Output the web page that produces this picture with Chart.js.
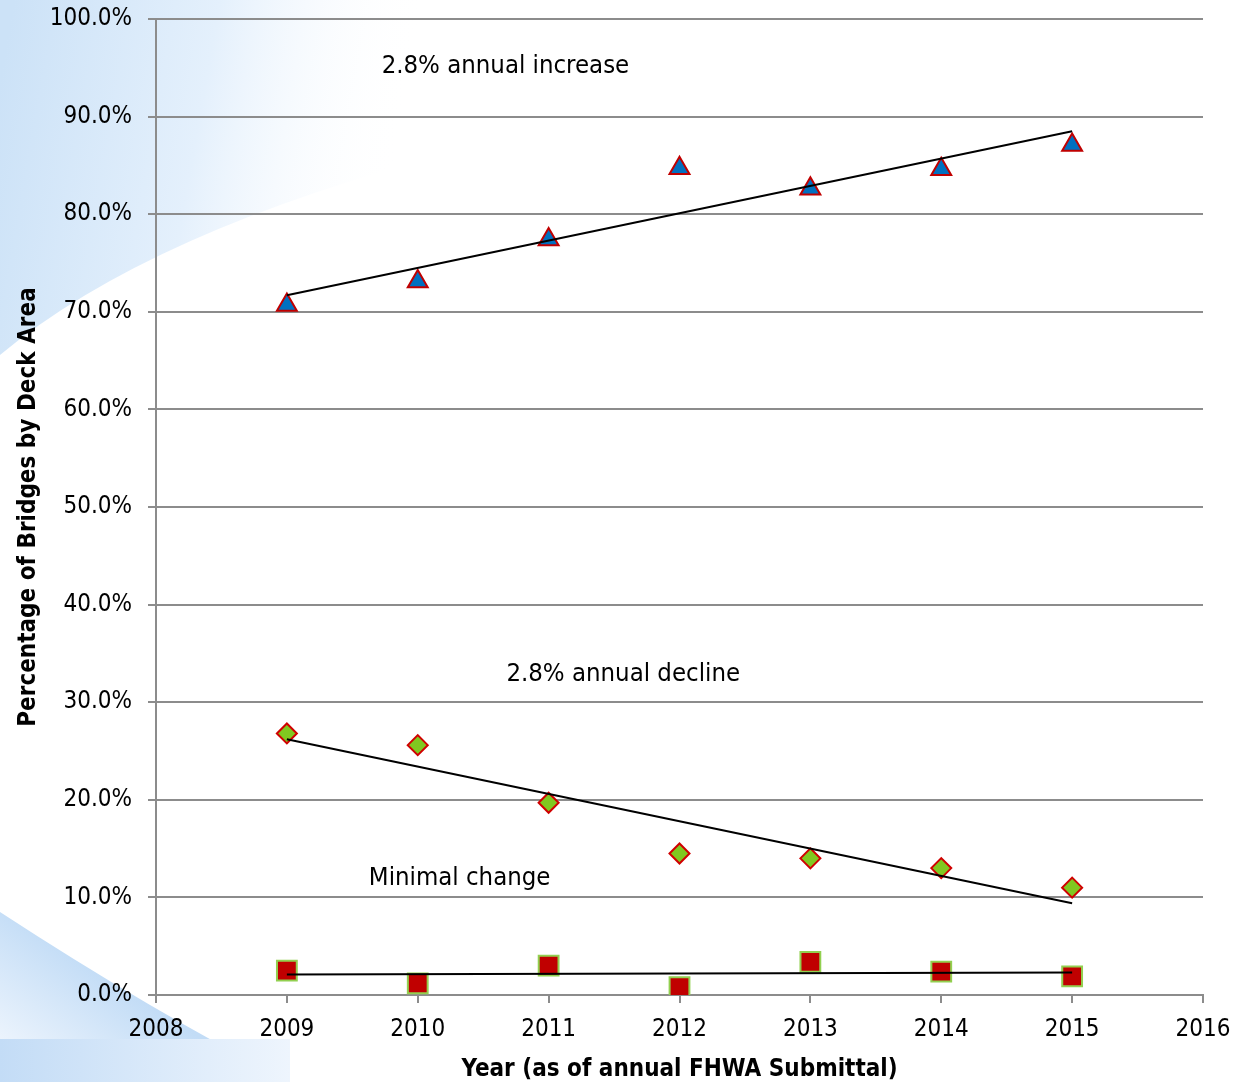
<!DOCTYPE html>
<html>
<head>
<meta charset="utf-8">
<script src="https://cdn.jsdelivr.net/npm/chart.js@4.4.1/dist/chart.umd.min.js"></script>
<style>
  html, body { margin: 0; padding: 0; background: #fff; }
  #wrap { width: 1235px; height: 1082px; }
</style>
</head>
<body>
<div id="wrap"><canvas id="chart" width="1235" height="1082"></canvas></div>
<script>
// Bridge deck area condition by year (percent)
const YEARS = [2009, 2010, 2011, 2012, 2013, 2014, 2015];
const GOOD = [70.7, 73.1, 77.4, 84.7, 82.6, 84.6, 87.1];
const FAIR = [26.8, 25.6, 19.7, 14.5, 14.0, 13.0, 11.0];
const POOR = [2.5, 1.2, 3.0, 0.8, 3.4, 2.4, 1.9];

// trend line endpoints (2009, 2015)
const TREND_YEARS = [2009, 2015];
const GOOD_TREND = [71.7, 88.5];
const FAIR_TREND = [26.2, 9.4];
const POOR_TREND = [2.1, 2.3];

const NOTES = [
    { text: '2.8% annual increase', x: 2010.67, y: 95.1 },
    { text: '2.8% annual decline', x: 2011.57, y: 32.9 },
    { text: 'Minimal change', x: 2010.32, y: 12.0 }
];

const FONT = "'DejaVu Sans Condensed', 'DejaVu Sans', sans-serif";
const GRID = '#8c8c8c';

const pts = (xs, ys) => xs.map((x, i) => ({ x: x, y: ys[i] }));

// light blue swooshes behind the chart
const backdrop = {
    id: 'backdrop',
    beforeDraw(chart) {
        const ctx = chart.ctx;
        ctx.save();
        ctx.fillStyle = '#fff';
        ctx.fillRect(0, 0, chart.width, chart.height);

        let g = ctx.createLinearGradient(0, 80, 400, 150);
        g.addColorStop(0, '#cce2f7');
        g.addColorStop(0.5, '#e4f0fc');
        g.addColorStop(1, 'rgba(255,255,255,0)');
        ctx.fillStyle = g;
        ctx.beginPath();
        ctx.moveTo(0, 0);
        ctx.lineTo(460, 0);
        ctx.lineTo(460, 150);
        ctx.quadraticCurveTo(150, 230, 0, 355);
        ctx.closePath();
        ctx.fill();

        g = ctx.createLinearGradient(110, 975, 40, 1075);
        g.addColorStop(0, '#c2dcf6');
        g.addColorStop(1, '#eef5fd');
        ctx.fillStyle = g;
        ctx.beginPath();
        ctx.moveTo(0, 912);
        ctx.quadraticCurveTo(150, 1010, 290, 1082);
        ctx.lineTo(0, 1082);
        ctx.closePath();
        ctx.fill();

        g = ctx.createLinearGradient(0, 0, 290, 0);
        g.addColorStop(0, '#c3dcf6');
        g.addColorStop(1, '#eef5fd');
        ctx.fillStyle = g;
        ctx.fillRect(0, 1039, 290, 43);
        ctx.restore();
    }
};

const notes = {
    id: 'notes',
    afterDatasetsDraw(chart) {
        const { ctx, scales } = chart;
        ctx.save();
        ctx.font = '25.5px ' + FONT;
        ctx.fillStyle = '#000';
        ctx.textAlign = 'center';
        ctx.textBaseline = 'middle';
        NOTES.forEach(n => {
            ctx.fillText(n.text, scales.x.getPixelForValue(n.x), scales.y.getPixelForValue(n.y));
        });
        ctx.restore();
    }
};

const markerSet = (data, shape, radius, fill, border) => ({
    data: data,
    pointStyle: shape,
    pointRadius: radius,
    pointHoverRadius: radius,
    pointBackgroundColor: fill,
    pointBorderColor: border,
    pointBorderWidth: 2,
    showLine: false,
    order: 1
});

const trendSet = (data) => ({
    data: data,
    showLine: true,
    borderColor: '#000',
    borderWidth: 2,
    pointRadius: 0,
    fill: false,
    order: 0
});

new Chart(document.getElementById('chart'), {
    type: 'scatter',
    data: {
        datasets: [
            trendSet(pts(TREND_YEARS, GOOD_TREND)),
            trendSet(pts(TREND_YEARS, FAIR_TREND)),
            trendSet(pts(TREND_YEARS, POOR_TREND)),
            markerSet(pts(YEARS, GOOD), 'triangle', 11.5, '#0070c0', '#c00000'),
            markerSet(pts(YEARS, FAIR), 'rectRot', 10, '#80c820', '#d00000'),
            markerSet(pts(YEARS, POOR), 'rect', 14, '#c00000', '#92d050')
        ]
    },
    options: {
        responsive: false,
        animation: false,
        layout: { padding: { top: 19, right: 32, left: 0, bottom: 0 } },
        plugins: {
            legend: { display: false },
            tooltip: { enabled: false }
        },
        scales: {
            x: {
                type: 'linear',
                min: 2008,
                max: 2016,
                afterFit: s => {
                    s.height = 87;
                    s.paddingLeft = 0;
                    s.paddingRight = 0;
                },
                ticks: {
                    stepSize: 1,
                    color: '#000',
                    padding: 12,
                    font: { family: FONT, size: 24 },
                    callback: v => String(v)
                },
                grid: { drawOnChartArea: false, drawTicks: true, tickLength: 8, color: GRID, lineWidth: 2 },
                border: { color: GRID, width: 2 },
                title: {
                    display: true,
                    text: 'Year (as of annual FHWA Submittal)',
                    color: '#000',
                    font: { family: FONT, size: 24, weight: 'bold' },
                    padding: { top: 0, bottom: -2 }
                }
            },
            y: {
                min: 0,
                max: 100,
                afterFit: s => {
                    s.width = 156;
                    s.paddingTop = 0;
                    s.paddingBottom = 0;
                },
                ticks: {
                    stepSize: 10,
                    color: '#000',
                    padding: 16,
                    font: { family: FONT, size: 24 },
                    callback: v => v.toFixed(1) + '%'
                },
                grid: { color: GRID, lineWidth: 2, tickLength: 8 },
                border: { color: GRID, width: 2 },
                title: {
                    display: true,
                    text: 'Percentage of Bridges by Deck Area',
                    color: '#000',
                    font: { family: FONT, size: 24, weight: 'bold' },
                    padding: { top: 14, bottom: 0 }
                }
            }
        }
    },
    plugins: [backdrop, notes]
});
</script>
</body>
</html>
